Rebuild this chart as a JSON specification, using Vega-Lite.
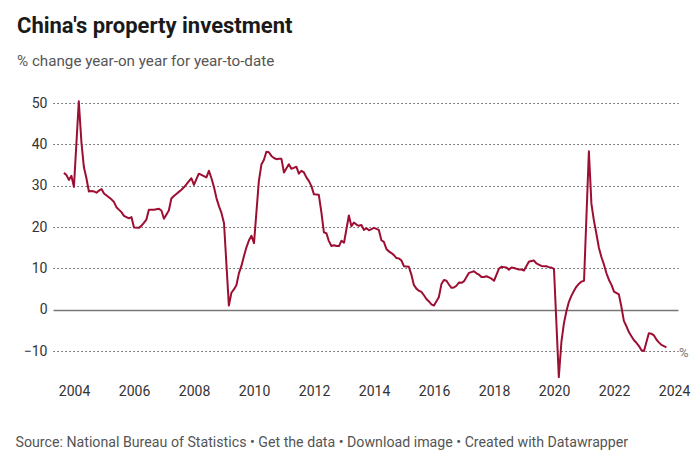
{
  "$schema": "https://vega.github.io/schema/vega-lite/v6.json",
  "width": 625,
  "height": 277,
  "padding": {"left": 15, "top": 14, "right": 5, "bottom": 5},
  "config": {
    "font": "Roboto",
    "view": {"stroke": null},
    "title": {"font": "Roboto"},
    "axis": {"labelFont": "Roboto", "titleFont": "Roboto"}
  },
  "title": {
    "text": "China's property investment",
    "subtitle": "% change year-on year for year-to-date",
    "anchor": "start",
    "frame": "group",
    "dx": -36,
    "fontSize": 22,
    "fontWeight": "bold",
    "color": "#1a1a1a",
    "subtitleFontSize": 15.2,
    "subtitleColor": "#555555",
    "subtitlePadding": 16,
    "offset": 26
  },
  "layer": [
    {
      "data": {
        "values": [
          {"d": "2003-08-31", "v": 33.1}, {"d": "2003-09-30", "v": 32.6}, {"d": "2003-10-31", "v": 31.4}, {"d": "2003-11-30", "v": 32.4}, {"d": "2003-12-31", "v": 29.7},
          {"d": "2004-02-28", "v": 50.4}, {"d": "2004-03-31", "v": 40.5}, {"d": "2004-04-30", "v": 34.5}, {"d": "2004-05-31", "v": 31.8}, {"d": "2004-06-30", "v": 28.6}, {"d": "2004-07-31", "v": 28.7}, {"d": "2004-08-31", "v": 28.6}, {"d": "2004-09-30", "v": 28.3}, {"d": "2004-10-31", "v": 28.8}, {"d": "2004-11-30", "v": 29.2}, {"d": "2004-12-31", "v": 28.1},
          {"d": "2005-02-28", "v": 27.2}, {"d": "2005-03-31", "v": 26.7}, {"d": "2005-04-30", "v": 26.1}, {"d": "2005-05-31", "v": 24.8}, {"d": "2005-06-30", "v": 24.2}, {"d": "2005-07-31", "v": 23.6}, {"d": "2005-08-31", "v": 22.7}, {"d": "2005-09-30", "v": 22.4}, {"d": "2005-10-31", "v": 22.1}, {"d": "2005-11-30", "v": 22.4}, {"d": "2005-12-31", "v": 19.9},
          {"d": "2006-02-28", "v": 19.8}, {"d": "2006-03-31", "v": 20.3}, {"d": "2006-04-30", "v": 21.0}, {"d": "2006-05-31", "v": 21.8}, {"d": "2006-06-30", "v": 24.2}, {"d": "2006-07-31", "v": 24.2}, {"d": "2006-08-31", "v": 24.2}, {"d": "2006-09-30", "v": 24.3}, {"d": "2006-10-31", "v": 24.4}, {"d": "2006-11-30", "v": 24.0}, {"d": "2006-12-31", "v": 22.0},
          {"d": "2007-02-28", "v": 24.0}, {"d": "2007-03-31", "v": 26.9}, {"d": "2007-04-30", "v": 27.5}, {"d": "2007-05-31", "v": 28.0}, {"d": "2007-06-30", "v": 28.5}, {"d": "2007-07-31", "v": 29.0}, {"d": "2007-08-31", "v": 29.6}, {"d": "2007-09-30", "v": 30.3}, {"d": "2007-10-31", "v": 31.1}, {"d": "2007-11-30", "v": 31.8}, {"d": "2007-12-31", "v": 30.2},
          {"d": "2008-02-28", "v": 32.9}, {"d": "2008-03-31", "v": 32.6}, {"d": "2008-04-30", "v": 32.3}, {"d": "2008-05-31", "v": 32.0}, {"d": "2008-06-30", "v": 33.6}, {"d": "2008-07-31", "v": 31.8}, {"d": "2008-08-31", "v": 29.6}, {"d": "2008-09-30", "v": 27.0}, {"d": "2008-10-31", "v": 25.0}, {"d": "2008-11-30", "v": 23.4}, {"d": "2008-12-31", "v": 20.9},
          {"d": "2009-02-28", "v": 1.0}, {"d": "2009-03-31", "v": 4.1}, {"d": "2009-04-30", "v": 4.9}, {"d": "2009-05-31", "v": 5.9}, {"d": "2009-06-30", "v": 8.8}, {"d": "2009-07-31", "v": 10.6}, {"d": "2009-08-31", "v": 13.0}, {"d": "2009-09-30", "v": 15.1}, {"d": "2009-10-31", "v": 16.8}, {"d": "2009-11-30", "v": 17.9}, {"d": "2009-12-31", "v": 16.1},
          {"d": "2010-02-28", "v": 31.1}, {"d": "2010-03-31", "v": 35.1}, {"d": "2010-04-30", "v": 36.2}, {"d": "2010-05-31", "v": 38.2}, {"d": "2010-06-30", "v": 38.1}, {"d": "2010-07-31", "v": 37.2}, {"d": "2010-08-31", "v": 36.7}, {"d": "2010-09-30", "v": 36.4}, {"d": "2010-10-31", "v": 36.5}, {"d": "2010-11-30", "v": 36.5}, {"d": "2010-12-31", "v": 33.2},
          {"d": "2011-02-28", "v": 35.2}, {"d": "2011-03-31", "v": 34.1}, {"d": "2011-04-30", "v": 34.3}, {"d": "2011-05-31", "v": 34.6}, {"d": "2011-06-30", "v": 32.9}, {"d": "2011-07-31", "v": 33.6}, {"d": "2011-08-31", "v": 33.2}, {"d": "2011-09-30", "v": 32.0}, {"d": "2011-10-31", "v": 31.1}, {"d": "2011-11-30", "v": 29.9}, {"d": "2011-12-31", "v": 27.9},
          {"d": "2012-02-28", "v": 27.8}, {"d": "2012-03-31", "v": 23.5}, {"d": "2012-04-30", "v": 18.7}, {"d": "2012-05-31", "v": 18.5}, {"d": "2012-06-30", "v": 16.6}, {"d": "2012-07-31", "v": 15.4}, {"d": "2012-08-31", "v": 15.6}, {"d": "2012-09-30", "v": 15.4}, {"d": "2012-10-31", "v": 15.4}, {"d": "2012-11-30", "v": 16.7}, {"d": "2012-12-31", "v": 16.2},
          {"d": "2013-02-28", "v": 22.8}, {"d": "2013-03-31", "v": 20.2}, {"d": "2013-04-30", "v": 21.1}, {"d": "2013-05-31", "v": 20.6}, {"d": "2013-06-30", "v": 20.3}, {"d": "2013-07-31", "v": 20.5}, {"d": "2013-08-31", "v": 19.3}, {"d": "2013-09-30", "v": 19.7}, {"d": "2013-10-31", "v": 19.2}, {"d": "2013-11-30", "v": 19.5}, {"d": "2013-12-31", "v": 19.8},
          {"d": "2014-02-28", "v": 19.3}, {"d": "2014-03-31", "v": 16.8}, {"d": "2014-04-30", "v": 16.4}, {"d": "2014-05-31", "v": 14.7}, {"d": "2014-06-30", "v": 14.1}, {"d": "2014-07-31", "v": 13.7}, {"d": "2014-08-31", "v": 13.2}, {"d": "2014-09-30", "v": 12.5}, {"d": "2014-10-31", "v": 12.4}, {"d": "2014-11-30", "v": 11.9}, {"d": "2014-12-31", "v": 10.5},
          {"d": "2015-02-28", "v": 10.4}, {"d": "2015-03-31", "v": 8.5}, {"d": "2015-04-30", "v": 6.0}, {"d": "2015-05-31", "v": 5.1}, {"d": "2015-06-30", "v": 4.6}, {"d": "2015-07-31", "v": 4.3}, {"d": "2015-08-31", "v": 3.5}, {"d": "2015-09-30", "v": 2.6}, {"d": "2015-10-31", "v": 2.0}, {"d": "2015-11-30", "v": 1.3}, {"d": "2015-12-31", "v": 1.0},
          {"d": "2016-02-28", "v": 3.0}, {"d": "2016-03-31", "v": 6.2}, {"d": "2016-04-30", "v": 7.2}, {"d": "2016-05-31", "v": 7.0}, {"d": "2016-06-30", "v": 6.1}, {"d": "2016-07-31", "v": 5.3}, {"d": "2016-08-31", "v": 5.4}, {"d": "2016-09-30", "v": 5.8}, {"d": "2016-10-31", "v": 6.6}, {"d": "2016-11-30", "v": 6.5}, {"d": "2016-12-31", "v": 6.9},
          {"d": "2017-02-28", "v": 8.9}, {"d": "2017-03-31", "v": 9.1}, {"d": "2017-04-30", "v": 9.3}, {"d": "2017-05-31", "v": 8.8}, {"d": "2017-06-30", "v": 8.5}, {"d": "2017-07-31", "v": 7.9}, {"d": "2017-08-31", "v": 7.9}, {"d": "2017-09-30", "v": 8.1}, {"d": "2017-10-31", "v": 7.8}, {"d": "2017-11-30", "v": 7.5}, {"d": "2017-12-31", "v": 7.0},
          {"d": "2018-02-28", "v": 9.9}, {"d": "2018-03-31", "v": 10.4}, {"d": "2018-04-30", "v": 10.3}, {"d": "2018-05-31", "v": 10.2}, {"d": "2018-06-30", "v": 9.7}, {"d": "2018-07-31", "v": 10.2}, {"d": "2018-08-31", "v": 10.1}, {"d": "2018-09-30", "v": 9.9}, {"d": "2018-10-31", "v": 9.7}, {"d": "2018-11-30", "v": 9.7}, {"d": "2018-12-31", "v": 9.5},
          {"d": "2019-02-28", "v": 11.6}, {"d": "2019-03-31", "v": 11.8}, {"d": "2019-04-30", "v": 11.9}, {"d": "2019-05-31", "v": 11.2}, {"d": "2019-06-30", "v": 10.9}, {"d": "2019-07-31", "v": 10.6}, {"d": "2019-08-31", "v": 10.5}, {"d": "2019-09-30", "v": 10.5}, {"d": "2019-10-31", "v": 10.3}, {"d": "2019-11-30", "v": 10.2}, {"d": "2019-12-31", "v": 9.9},
          {"d": "2020-02-28", "v": -16.3}, {"d": "2020-03-31", "v": -7.7}, {"d": "2020-04-30", "v": -3.3}, {"d": "2020-05-31", "v": -0.3}, {"d": "2020-06-30", "v": 1.9}, {"d": "2020-07-31", "v": 3.4}, {"d": "2020-08-31", "v": 4.6}, {"d": "2020-09-30", "v": 5.6}, {"d": "2020-10-31", "v": 6.3}, {"d": "2020-11-30", "v": 6.8}, {"d": "2020-12-31", "v": 7.0},
          {"d": "2021-02-28", "v": 38.3}, {"d": "2021-03-31", "v": 25.6}, {"d": "2021-04-30", "v": 21.6}, {"d": "2021-05-31", "v": 18.3}, {"d": "2021-06-30", "v": 15.0}, {"d": "2021-07-31", "v": 12.7}, {"d": "2021-08-31", "v": 10.9}, {"d": "2021-09-30", "v": 8.8}, {"d": "2021-10-31", "v": 7.2}, {"d": "2021-11-30", "v": 6.0}, {"d": "2021-12-31", "v": 4.4},
          {"d": "2022-02-28", "v": 3.7}, {"d": "2022-03-31", "v": 0.7}, {"d": "2022-04-30", "v": -2.7}, {"d": "2022-05-31", "v": -4.0}, {"d": "2022-06-30", "v": -5.4}, {"d": "2022-07-31", "v": -6.4}, {"d": "2022-08-31", "v": -7.4}, {"d": "2022-09-30", "v": -8.0}, {"d": "2022-10-31", "v": -8.8}, {"d": "2022-11-30", "v": -9.8}, {"d": "2022-12-31", "v": -10.0},
          {"d": "2023-02-28", "v": -5.7}, {"d": "2023-03-31", "v": -5.8}, {"d": "2023-04-30", "v": -6.2}, {"d": "2023-05-31", "v": -7.2}, {"d": "2023-06-30", "v": -7.9}, {"d": "2023-07-31", "v": -8.5}, {"d": "2023-08-31", "v": -8.8}, {"d": "2023-09-30", "v": -9.1}
        ]
      },
      "mark": {"type": "line", "color": "#9d0e33", "strokeWidth": 2, "strokeJoin": "round"},
      "encoding": {
        "x": {
          "field": "d",
          "type": "temporal",
          "scale": {
            "type": "utc",
            "domain": [
              {"year": 2003, "month": 4, "date": 20, "utc": true},
              {"year": 2024, "month": 2, "date": 18, "utc": true}
            ]
          },
          "axis": {
            "values": [
              {"year": 2004, "month": 1, "date": 1, "utc": true},
              {"year": 2006, "month": 1, "date": 1, "utc": true},
              {"year": 2008, "month": 1, "date": 1, "utc": true},
              {"year": 2010, "month": 1, "date": 1, "utc": true},
              {"year": 2012, "month": 1, "date": 1, "utc": true},
              {"year": 2014, "month": 1, "date": 1, "utc": true},
              {"year": 2016, "month": 1, "date": 1, "utc": true},
              {"year": 2018, "month": 1, "date": 1, "utc": true},
              {"year": 2020, "month": 1, "date": 1, "utc": true},
              {"year": 2022, "month": 1, "date": 1, "utc": true},
              {"year": 2024, "month": 1, "date": 1, "utc": true}
            ],
            "format": "%Y",
            "formatType": "utc",
            "grid": false,
            "domain": false,
            "ticks": false,
            "labelFontSize": 14,
            "labelColor": "#333333",
            "labelPadding": 4,
            "labelFlush": false,
            "title": "Source: National Bureau of Statistics • Get the data • Download image • Created with Datawrapper",
            "titleFontSize": 14.2,
            "titleFontWeight": "normal",
            "titleColor": "#555555",
            "titleAnchor": "start",
            "titleAlign": "left",
            "titleBaseline": "alphabetic",
            "titleX": -38,
            "titleY": 66
          }
        },
        "y": {
          "field": "v",
          "type": "quantitative",
          "scale": {"domain": [-17, 50], "nice": false, "zero": false},
          "axis": {
            "values": [-10, 0, 10, 20, 30, 40, 50],
            "title": null,
            "domain": false,
            "ticks": false,
            "labelFontSize": 14,
            "labelColor": "#333333",
            "labelPadding": 6,
            "grid": true,
            "gridColor": {"condition": {"test": "datum.value === 0", "value": "#777777"}, "value": "#333333"},
            "gridDash": {"condition": {"test": "datum.value === 0", "value": []}, "value": [1.2, 2.8]},
            "gridWidth": {"condition": {"test": "datum.value === 0", "value": 1.5}, "value": 1.2}
          }
        }
      }
    },
    {
      "data": {"values": [{"d": "2024-02-18", "v": -10, "t": "%"}]},
      "mark": {"type": "text", "align": "left", "baseline": "middle", "dx": 1, "dy": 2, "fontSize": 13, "color": "#777777"},
      "encoding": {
        "x": {"field": "d", "type": "temporal"},
        "y": {"field": "v", "type": "quantitative"},
        "text": {"field": "t"}
      }
    }
  ]
}
